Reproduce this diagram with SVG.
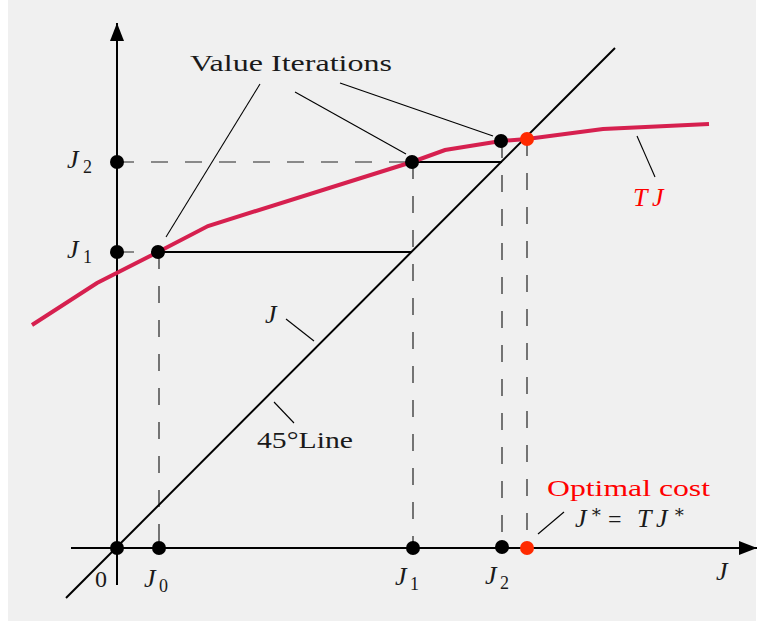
<svg xmlns="http://www.w3.org/2000/svg" width="763" height="621" viewBox="0 0 763 621">
<defs>
<style>
.ax{stroke:#000;stroke-width:2;fill:none}
.thin{stroke:#000;stroke-width:1.1;fill:none}
.dash{stroke:#222;stroke-width:1.2;stroke-dasharray:17 17;fill:none}
.t{font-family:'Liberation Serif','DejaVu Serif','Times New Roman',serif;font-size:24px;fill:#1a1a1a}
.m{font-family:'Liberation Serif','DejaVu Serif','Times New Roman',serif;font-style:italic;font-size:26px;fill:#1a1a1a}
.s{font-family:'Liberation Serif','DejaVu Serif','Times New Roman',serif;font-size:18px;fill:#1a1a1a}
.red{fill:#ff0000}
.dot{fill:#000}
.rdot{fill:#ff2a00}
</style>
<marker id="arr" viewBox="0 0 18 14" refX="18" refY="7" markerWidth="18" markerHeight="14" markerUnits="userSpaceOnUse" orient="auto">
<path d="M0,0 L18,7 L0,14 Z" fill="#000"/>
</marker>
</defs>
<rect x="0" y="0" width="763" height="621" fill="#ffffff"/>
<rect x="8" y="0" width="748" height="621" fill="#f0f0f0"/>
<g id="connectors">
<g id="dashed">
<path class="dash" d="M117,162 H412"/>
<path class="dash" d="M117,252 H158"/>
<path class="dash" d="M159,252 V548"/>
<path class="dash" d="M413,162 V548"/>
<path class="dash" d="M502,141 V548"/>
<path class="dash" d="M527,139 V548"/>
</g>
<path class="ax" d="M158,252 H412"/>
<path class="ax" d="M412,162 H502"/>
<path class="ax" d="M117,585 V23" marker-end="url(#arr)"/>
<path class="ax" d="M71,548 H757" marker-end="url(#arr)"/>
<path class="ax" d="M66,598 L615,48"/>
<path d="M32,325 L97,283 L158,252 L208,226 L412,162 L445,150 L501,141 L527,139 L603,129 L709,124" fill="none" stroke="#d6204f" stroke-width="4"/>
<g id="leaders">
<path class="thin" d="M260,84 L166,237"/>
<path class="thin" d="M295,92 L406,154"/>
<path class="thin" d="M340,83 L493,136"/>
<path class="thin" d="M286,319 L314,341"/>
<path class="thin" d="M274,402 L294,423"/>
<path class="thin" d="M637,136 L655,177"/>
<path class="thin" d="M538,534 L564,512"/>
</g>
</g>
<g id="points">
<circle class="dot" cx="117" cy="548" r="7"/>
<circle class="dot" cx="159" cy="548" r="7"/>
<circle class="dot" cx="413" cy="548" r="7"/>
<circle class="dot" cx="502" cy="547" r="7"/>
<circle class="rdot" cx="527" cy="548" r="7"/>
<circle class="dot" cx="117" cy="162" r="7"/>
<circle class="dot" cx="117" cy="252" r="7"/>
<circle class="dot" cx="158" cy="252" r="7"/>
<circle class="dot" cx="412" cy="162" r="7"/>
<circle class="dot" cx="501" cy="141" r="7"/>
<circle class="rdot" cx="527" cy="139" r="7"/>
</g>
<g id="labels">
<text class="t" x="190" y="71" textLength="202" lengthAdjust="spacingAndGlyphs">Value Iterations</text>
<g id="lbl-J2y"><text class="m" x="67" y="168">J</text><text class="s" x="83" y="173">2</text></g>
<g id="lbl-J1y"><text class="m" x="67" y="258">J</text><text class="s" x="83" y="263">1</text></g>
<text class="t" x="95" y="587">0</text>
<g id="lbl-J0"><text class="m" x="144" y="587">J</text><text class="s" x="159" y="592">0</text></g>
<g id="lbl-J1x"><text class="m" x="395" y="585">J</text><text class="s" x="410" y="590">1</text></g>
<g id="lbl-J2x"><text class="m" x="485" y="584">J</text><text class="s" x="500" y="589">2</text></g>
<text class="m" x="716" y="580">J</text>
<text class="m" x="265" y="323">J</text>
<text class="t" x="257" y="448" textLength="96" lengthAdjust="spacingAndGlyphs">45°Line</text>
<g id="lbl-TJ"><text class="m red" x="633" y="206">T</text><text class="m red" x="652" y="206">J</text></g>
<text class="t red" x="547" y="496" textLength="163" lengthAdjust="spacingAndGlyphs">Optimal cost</text>
<g id="lbl-fixed">
<text class="m" x="575" y="527">J</text><text class="s" x="590" y="518">∗</text>
<text class="t" x="608" y="527">=</text>
<text class="m" x="637" y="527">T</text><text class="m" x="656" y="527">J</text><text class="s" x="673" y="518">∗</text>
</g>
</g>
</svg>
